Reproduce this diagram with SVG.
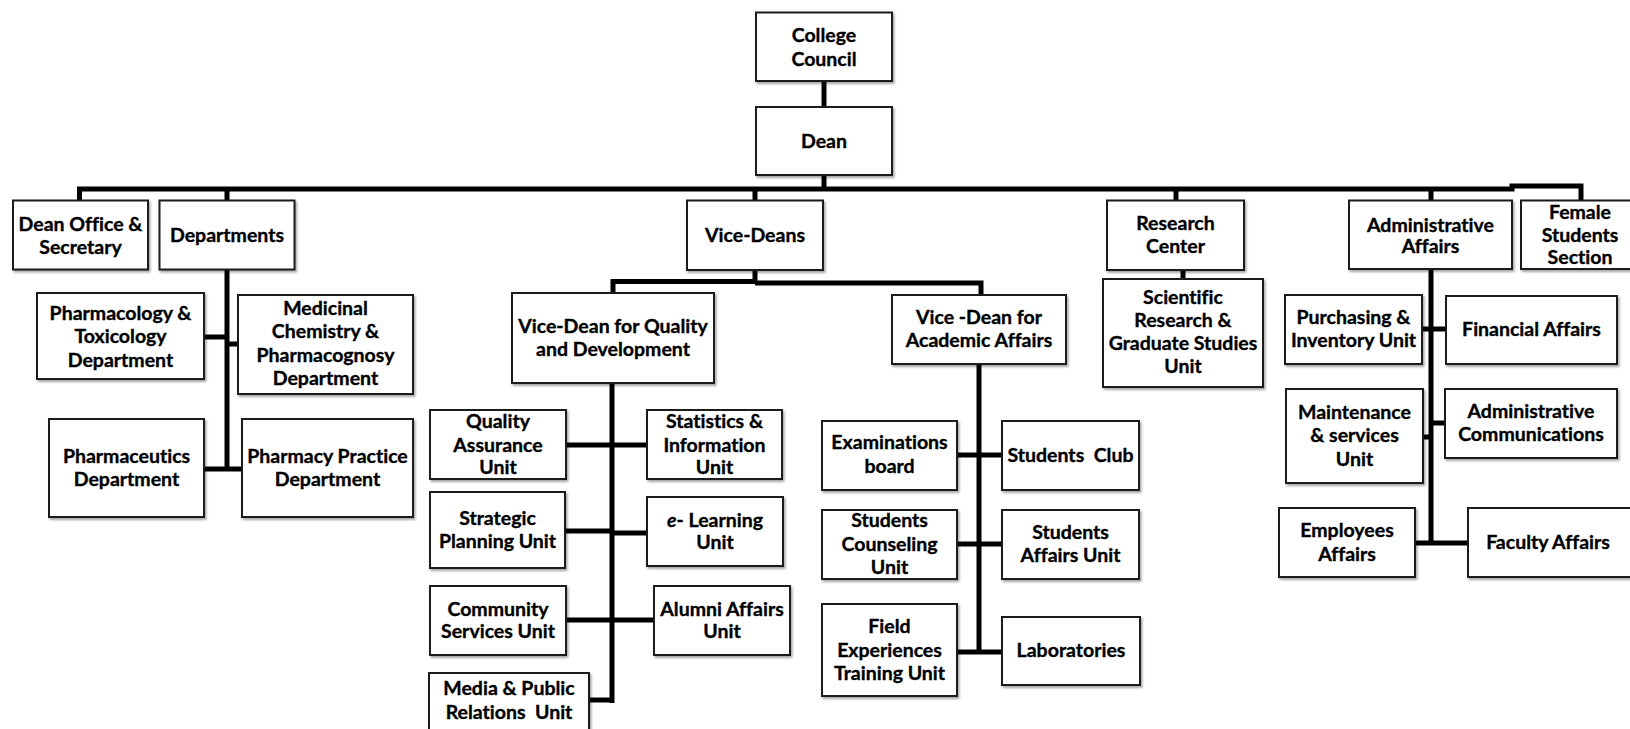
<svg xmlns="http://www.w3.org/2000/svg" width="1630" height="729" viewBox="0 0 1630 729">
<defs>
<filter id="sh" x="-10%" y="-10%" width="130%" height="130%">
<feDropShadow dx="1.5" dy="2" stdDeviation="1" flood-color="#000" flood-opacity="0.35"/>
</filter>
<style>
.node rect{fill:#fff;stroke:#1a1a1a;stroke-width:2;filter:url(#sh)}
.node text{font-family:Lato,"Open Sans","Liberation Sans",sans-serif;font-weight:bold;font-size:19.5px;fill:#000;stroke:#000;stroke-width:0.35;text-anchor:middle;font-variant-ligatures:none}
.c{fill:none;stroke:#000;stroke-width:5;stroke-linecap:butt}
</style>
</defs>
<rect width="1630" height="729" fill="#fff"/>
<g id="connectors">
<path class="c" d="M824 81V107M824 175V189M79.5 201V189H1512V186H1581V201M227 189V200M755 189V201M1176 189V201M1431 189V201"/>
<path class="c" d="M227 270V469M204 337H227M238 344H227M204 469H242"/>
<path class="c" d="M755 270V282M613 293V281.5H755M755 283H981V295"/>
<path class="c" d="M612 383V703M566 445H647M565 531H612M612 533H647M566 620H654M589 700H612"/>
<path class="c" d="M979 364V652M957 455H1002M957 544H1002M957 652H1002"/>
<path class="c" d="M1183 270V279"/>
<path class="c" d="M1431 269V543M1422 329H1446M1423 437H1431M1431 423H1445M1415 543H1468"/>
</g>
<g id="n-college" class="node"><rect x="756" y="12.5" width="136" height="68.5"/><text><tspan x="824" y="41.5">College</tspan><tspan x="824" y="66">Council</tspan></text></g>
<g id="n-dean" class="node"><rect x="756" y="107" width="136" height="68"/><text><tspan x="824" y="148">Dean</tspan></text></g>
<g id="n-deanoffice" class="node"><rect x="13" y="200.5" width="135" height="69"/><text><tspan x="80.5" y="230.5">Dean Office &amp;</tspan><tspan x="80.5" y="254">Secretary</tspan></text></g>
<g id="n-departments" class="node"><rect x="159.5" y="200.5" width="135" height="69"/><text><tspan x="227" y="241.5">Departments</tspan></text></g>
<g id="n-vicedeans" class="node"><rect x="687" y="200.5" width="136" height="69.5"/><text><tspan x="755" y="241.5">Vice-Deans</tspan></text></g>
<g id="n-research" class="node"><rect x="1107" y="200.5" width="137" height="69.5"/><text><tspan x="1175.5" y="230">Research</tspan><tspan x="1175.5" y="252.5">Center</tspan></text></g>
<g id="n-admin" class="node"><rect x="1349" y="200.5" width="163" height="68.5"/><text><tspan x="1430.5" y="231.5">Administrative</tspan><tspan x="1430.5" y="253">Affairs</tspan></text></g>
<g id="n-female" class="node"><rect x="1521" y="200.5" width="120" height="68.5"/><text><tspan x="1580" y="219">Female</tspan><tspan x="1580" y="241.5">Students</tspan><tspan x="1580" y="264">Section</tspan></text></g>
<g id="n-pharmacology" class="node"><rect x="37" y="293" width="167" height="86"/><text><tspan x="120.5" y="320">Pharmacology &amp;</tspan><tspan x="120.5" y="343">Toxicology</tspan><tspan x="120.5" y="366.5">Department</tspan></text></g>
<g id="n-medicinal" class="node"><rect x="238" y="295" width="175" height="99"/><text><tspan x="325.5" y="315">Medicinal</tspan><tspan x="325.5" y="338">Chemistry &amp;</tspan><tspan x="325.5" y="361.5">Pharmacognosy</tspan><tspan x="325.5" y="385">Department</tspan></text></g>
<g id="n-pharmaceutics" class="node"><rect x="49" y="419" width="155" height="98"/><text><tspan x="126.5" y="463">Pharmaceutics</tspan><tspan x="126.5" y="486">Department</tspan></text></g>
<g id="n-practice" class="node"><rect x="242" y="419" width="171" height="98"/><text><tspan x="327.5" y="463">Pharmacy Practice</tspan><tspan x="327.5" y="486">Department</tspan></text></g>
<g id="n-vdquality" class="node"><rect x="512" y="293" width="202" height="90"/><text><tspan x="613" y="333">Vice-Dean for Quality</tspan><tspan x="613" y="356">and Development</tspan></text></g>
<g id="n-vdacademic" class="node"><rect x="892" y="295" width="174" height="69"/><text><tspan x="979" y="324">Vice -Dean for</tspan><tspan x="979" y="347">Academic Affairs</tspan></text></g>
<g id="n-scientific" class="node"><rect x="1103" y="279" width="160" height="108"/><text><tspan x="1183" y="304">Scientific</tspan><tspan x="1183" y="326.5">Research &amp;</tspan><tspan x="1183" y="350">Graduate Studies</tspan><tspan x="1183" y="373">Unit</tspan></text></g>
<g id="n-qa" class="node"><rect x="430" y="410" width="136" height="69"/><text><tspan x="498" y="428">Quality</tspan><tspan x="498" y="451.5">Assurance</tspan><tspan x="498" y="474">Unit</tspan></text></g>
<g id="n-stats" class="node"><rect x="647" y="410" width="135" height="69"/><text><tspan x="714.5" y="428">Statistics &amp;</tspan><tspan x="714.5" y="451.5">Information</tspan><tspan x="714.5" y="474">Unit</tspan></text></g>
<g id="n-strategic" class="node"><rect x="430" y="492" width="135" height="76"/><text><tspan x="497.5" y="525">Strategic</tspan><tspan x="497.5" y="548">Planning Unit</tspan></text></g>
<g id="n-elearning" class="node"><rect x="647" y="497" width="136" height="69"/><text><tspan x="715" y="527"><tspan font-style="italic">e</tspan>- Learning</tspan><tspan x="715" y="549">Unit</tspan></text></g>
<g id="n-community" class="node"><rect x="430" y="586" width="136" height="69"/><text><tspan x="498" y="616">Community</tspan><tspan x="498" y="638">Services Unit</tspan></text></g>
<g id="n-alumni" class="node"><rect x="654" y="586" width="136" height="69"/><text><tspan x="722" y="616">Alumni Affairs</tspan><tspan x="722" y="638">Unit</tspan></text></g>
<g id="n-media" class="node"><rect x="429" y="673" width="160" height="70"/><text><tspan x="509" y="695">Media &amp; Public</tspan><tspan x="509" y="719" xml:space="preserve">Relations  Unit</tspan></text></g>
<g id="n-exam" class="node"><rect x="822" y="421" width="135" height="69"/><text><tspan x="889.5" y="449">Examinations</tspan><tspan x="889.5" y="473">board</tspan></text></g>
<g id="n-club" class="node"><rect x="1002" y="421" width="137" height="69"/><text xml:space="preserve"><tspan x="1070.5" y="461.5">Students  Club</tspan></text></g>
<g id="n-counseling" class="node"><rect x="822" y="510" width="135" height="69"/><text><tspan x="889.5" y="527">Students</tspan><tspan x="889.5" y="550.5">Counseling</tspan><tspan x="889.5" y="574">Unit</tspan></text></g>
<g id="n-saffairs" class="node"><rect x="1002" y="510" width="137" height="69"/><text><tspan x="1070.5" y="539">Students</tspan><tspan x="1070.5" y="561.5">Affairs Unit</tspan></text></g>
<g id="n-field" class="node"><rect x="822" y="604" width="135" height="92"/><text><tspan x="889.5" y="633">Field</tspan><tspan x="889.5" y="656.5">Experiences</tspan><tspan x="889.5" y="680">Training Unit</tspan></text></g>
<g id="n-labs" class="node"><rect x="1002" y="617" width="138" height="68"/><text><tspan x="1071" y="656.5">Laboratories</tspan></text></g>
<g id="n-purchasing" class="node"><rect x="1285" y="295" width="137" height="69"/><text><tspan x="1353.5" y="324">Purchasing &amp;</tspan><tspan x="1353.5" y="347">Inventory Unit</tspan></text></g>
<g id="n-financial" class="node"><rect x="1446" y="296" width="171" height="68"/><text><tspan x="1531.5" y="336">Financial Affairs</tspan></text></g>
<g id="n-maintenance" class="node"><rect x="1286" y="389" width="137" height="94"/><text><tspan x="1354.5" y="419">Maintenance</tspan><tspan x="1354.5" y="442">&amp; services</tspan><tspan x="1354.5" y="465.5">Unit</tspan></text></g>
<g id="n-admincomm" class="node"><rect x="1445" y="389" width="172" height="69"/><text><tspan x="1531" y="418">Administrative</tspan><tspan x="1531" y="440.5">Communications</tspan></text></g>
<g id="n-employees" class="node"><rect x="1279" y="508" width="136" height="69"/><text><tspan x="1347" y="537">Employees</tspan><tspan x="1347" y="560.5">Affairs</tspan></text></g>
<g id="n-faculty" class="node"><rect x="1468" y="508" width="170" height="69"/><text><tspan x="1548" y="549">Faculty Affairs</tspan></text></g>
</svg>
